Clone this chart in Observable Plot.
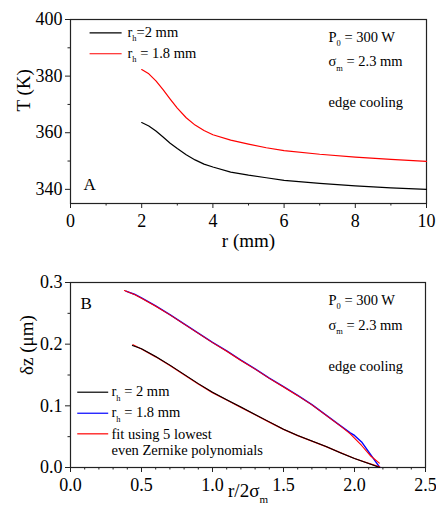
<!DOCTYPE html>
<html><head><meta charset="utf-8">
<script src="https://cdn.jsdelivr.net/npm/d3@7"></script>
<script src="https://cdn.jsdelivr.net/npm/@observablehq/plot@0.6"></script>
<style>
body{margin:0;background:#fff}
#chart svg{display:block}
#chart svg text{font-family:"Liberation Serif"}
</style>
</head><body><div id="chart"></div>
<script>
// ---------- Panel A: temperature vs radius ----------
const rA      = [2.0, 2.2, 2.4, 2.6, 2.8, 3.0, 3.25, 3.5, 3.75, 4.0, 4.5, 5.0, 5.5, 6, 7, 8, 9, 10];
const tRh2    = [363.6, 362.4, 360.6, 358.5, 356.3, 354.4, 352.2, 350.4, 348.9, 347.9, 346.1, 345.0, 344.1, 343.2, 342.1, 341.2, 340.5, 340.0];
const tRh18   = [382.3, 380.8, 378.3, 375.2, 371.9, 368.7, 365.3, 362.7, 360.8, 359.3, 357.4, 356.0, 354.7, 353.7, 352.4, 351.4, 350.6, 349.9];
const xTicksA = [0, 2, 4, 6, 8, 10];
const xMinorA = [1, 3, 5, 7, 9];
const yTicksA = [340, 360, 380, 400];
const yMinorA = [350, 370, 390];

// ---------- Panel B: deformation vs normalised radius ----------
const xBlue   = [0.39, 0.45, 0.5, 0.6, 0.7, 0.8, 0.9, 1.0, 1.1, 1.2, 1.3, 1.4, 1.5, 1.6, 1.7, 1.8, 1.9, 1.97, 2.0, 2.05, 2.11, 2.16, 2.177];
const zBlue   = [0.286, 0.281, 0.275, 0.262, 0.248, 0.233, 0.218, 0.203, 0.189, 0.174, 0.160, 0.145, 0.131, 0.117, 0.102, 0.085, 0.068, 0.0563, 0.052, 0.0415, 0.0222, 0.006, 0.0005];
const xFitU   = [0.38, 0.45, 0.5, 0.6, 0.7, 0.8, 0.9, 1.0, 1.1, 1.2, 1.3, 1.4, 1.5, 1.6, 1.7, 1.8, 1.9, 1.97, 2.05, 2.11, 2.175];
const zFitU   = [0.287, 0.2805, 0.2745, 0.2615, 0.2475, 0.2325, 0.2175, 0.2025, 0.1885, 0.1735, 0.1595, 0.1445, 0.1305, 0.1165, 0.1015, 0.0845, 0.0675, 0.0546, 0.0357, 0.0195, 0.007];
const xBlack  = [0.436, 0.5, 0.6, 0.7, 0.8, 0.9, 1.0, 1.1, 1.2, 1.3, 1.4, 1.5, 1.6, 1.7, 1.8, 1.9, 2.0, 2.1, 2.177];
const zBlack  = [0.198, 0.1925, 0.180, 0.166, 0.151, 0.136, 0.122, 0.110, 0.098, 0.086, 0.074, 0.062, 0.052, 0.043, 0.034, 0.024, 0.0145, 0.0065, 0.0];
const xFitL   = [0.44, 0.5, 0.6, 0.7, 0.8, 0.9, 1.0, 1.1, 1.2, 1.3, 1.4, 1.5, 1.6, 1.7, 1.8, 1.9, 2.0, 2.1, 2.177];
const zFitL   = [0.199, 0.1922, 0.1795, 0.1655, 0.1505, 0.1355, 0.1215, 0.1095, 0.0975, 0.0855, 0.0735, 0.0617, 0.0518, 0.0428, 0.0339, 0.0241, 0.0146, 0.0068, 0.001];
const xTicksB = [0, 0.5, 1.0, 1.5, 2.0, 2.5];
const xMinorB = [0.1,0.2,0.3,0.4,0.6,0.7,0.8,0.9,1.1,1.2,1.3,1.4,1.6,1.7,1.8,1.9,2.1,2.2,2.3,2.4];
const yTicksB = [0, 0.1, 0.2, 0.3];
const yMinorB = [0.05, 0.15, 0.25];

const FONT = "Liberation Serif";
const pts = (xs, ys) => xs.map((x, i) => ({x, y: ys[i]}));
const note = (t, dx, dy, o = {}) => Plot.text([t], {text: d => d, frameAnchor: "top-left", textAnchor: "start", lineAnchor: "middle", fontSize: 14.5, fontFamily: FONT, dx, dy, fill: "black", ...o});
const axes = (xt, xm, yt, ym, fmt) => [
  Plot.axisX(xt, {tickSize: 5, tickPadding: 6, tickFormat: fmt, label: null, stroke: "#222", fontSize: 18, fontFamily: FONT}),
  Plot.axisX(xm, {tickSize: 2.5, tickFormat: () => "", label: null, stroke: "#222"}),
  Plot.axisY(yt, {tickSize: 5, tickPadding: 3, tickFormat: fmt, label: null, stroke: "#222", fontSize: 18, fontFamily: FONT}),
  Plot.axisY(ym, {tickSize: 2.5, tickFormat: () => "", label: null, stroke: "#222"}),
  Plot.frame({stroke: "#222", strokeWidth: 1.2})
];
const style = "font-family: 'Liberation Serif'; font-size: 18px; color: black; background: white; overflow: visible;";

const plotA = Plot.plot({
  width: 436, height: 250, marginTop: 19, marginBottom: 47, marginLeft: 70, marginRight: 10,
  style,
  x: {domain: [0, 10]},
  y: {domain: [335, 400]},
  marks: [
    ...axes(xTicksA, xMinorA, yTicksA, yMinorA, d => String(d)),
    Plot.line(pts(rA, tRh2), {x: "x", y: "y", stroke: "black", strokeWidth: 1.2}),
    Plot.line(pts(rA, tRh18), {x: "x", y: "y", stroke: "#ff0000", strokeWidth: 1.2}),
    Plot.ruleY([395.3], {x1: 0.55, x2: 1.45, stroke: "black", strokeWidth: 1.2}),
    Plot.ruleY([387.9], {x1: 0.55, x2: 1.45, stroke: "#ff0000", strokeWidth: 1.2}),
    note("r_{h}=2 mm", 57, 12.4),
    note("r_{h} = 1.8 mm", 57, 33.7),
    note("P_{0} = 300 W", 258, 17.4),
    note("σ_{m} = 2.3 mm", 258, 42),
    note("edge cooling", 258, 82.4),
    Plot.text(["A"], {text: d => d, frameAnchor: "bottom-left", textAnchor: "start", lineAnchor: "middle", fontSize: 17, fontFamily: FONT, dx: 13, dy: -19.4}),
    Plot.text(["r (mm)"], {text: d => d, frameAnchor: "bottom", lineAnchor: "middle", fontSize: 19, fontFamily: FONT, dy: 37}),
    Plot.text(["T (K)"], {text: d => d, frameAnchor: "left", lineAnchor: "middle", rotate: -90, fontSize: 19, fontFamily: FONT, dx: -47})
  ]
});

const plotB = Plot.plot({
  width: 436, height: 256, marginTop: 32, marginBottom: 39, marginLeft: 70, marginRight: 11,
  style,
  x: {domain: [0, 2.5]},
  y: {domain: [0, 0.3]},
  marks: [
    ...axes(xTicksB, xMinorB, yTicksB, yMinorB, d3.format(".1f")),
    Plot.line(pts(xBlue, zBlue), {x: "x", y: "y", stroke: "#0000ff", strokeWidth: 1.4}),
    Plot.line(pts(xFitU, zFitU), {x: "x", y: "y", stroke: "#ff0000", strokeWidth: 1.1}),
    Plot.line(pts(xFitL, zFitL), {x: "x", y: "y", stroke: "#ff0000", strokeWidth: 1.3}),
    Plot.line(pts(xBlack, zBlack), {x: "x", y: "y", stroke: "black", strokeWidth: 1.1}),
    Plot.ruleY([0.1221], {x1: 0.051, x2: 0.269, stroke: "black", strokeWidth: 1.2}),
    Plot.ruleY([0.0880], {x1: 0.051, x2: 0.269, stroke: "#0000ff", strokeWidth: 1.2}),
    Plot.ruleY([0.0546], {x1: 0.051, x2: 0.269, stroke: "#ff0000", strokeWidth: 1.2}),
    note("r_{h} = 2 mm", 41, 109),
    note("r_{h} = 1.8 mm", 41, 130),
    note("fit using 5 lowest", 41, 151.7),
    note("even Zernike polynomials", 41, 167.4),
    note("P_{0} = 300 W", 258, 17.7),
    note("σ_{m} = 2.3 mm", 258, 42.7),
    note("edge cooling", 258, 83.4),
    Plot.text(["B"], {text: d => d, frameAnchor: "top-left", textAnchor: "start", lineAnchor: "middle", fontSize: 17, fontFamily: FONT, dx: 10, dy: 20.8}),
    Plot.text(["r/2σ_{m}"], {text: d => d, frameAnchor: "bottom", lineAnchor: "middle", fontSize: 19, fontFamily: FONT, dy: 23}),
    Plot.text(["δz (μm)"], {text: d => d, frameAnchor: "left", lineAnchor: "middle", rotate: -90, fontSize: 19, fontFamily: FONT, dx: -44})
  ]
});

// turn "_{x}" markers into real subscript tspans
function subscripts(svg) {
  const NS = "http://www.w3.org/2000/svg";
  svg.querySelectorAll("text, tspan").forEach(el => {
    if (el.childElementCount) return;
    const s = el.textContent;
    if (!s.includes("_{")) return;
    el.textContent = "";
    let afterSub = false;
    for (const p of s.split(/(_\{[^}]*\})/)) {
      if (!p) continue;
      const t = document.createElementNS(NS, "tspan");
      if (p.startsWith("_{")) {
        t.textContent = p.slice(2, -1);
        t.setAttribute("font-size", "0.58em");
        t.setAttribute("dy", "0.55em");
        afterSub = true;
      } else {
        t.textContent = p;
        if (afterSub) t.setAttribute("dy", "-0.319em");
        afterSub = false;
      }
      el.appendChild(t);
    }
  });
}
subscripts(plotA);
subscripts(plotB);
const root = document.getElementById("chart");
root.append(plotA, plotB);
</script>
</body></html>
